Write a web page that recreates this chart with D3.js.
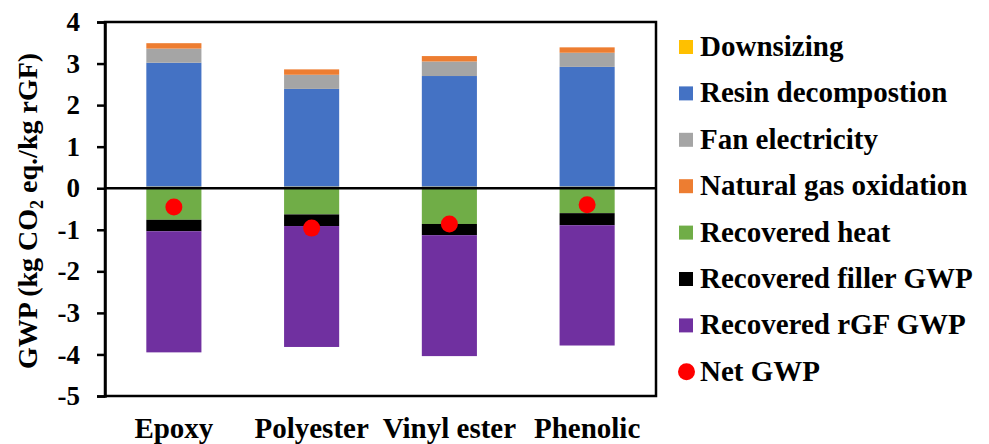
<!DOCTYPE html>
<html>
<head>
<meta charset="utf-8">
<script src="https://cdn.jsdelivr.net/npm/d3@7"></script>
<style>
  html, body { margin: 0; padding: 0; background: #fff; }
  svg { display: block; }
  text { font-family: "Liberation Serif", "Times New Roman", serif; font-weight: bold; fill: #000; }
</style>
</head>
<body>
<svg id="chart" width="989" height="444"></svg>
<script>
// ---- Data ----
const categories = ["Epoxy", "Polyester", "Vinyl ester", "Phenolic"];
const seriesNames = ["Downsizing", "Resin decompostion", "Fan electricity", "Natural gas oxidation",
                     "Recovered heat", "Recovered filler GWP", "Recovered rGF GWP"];
const seriesColors = ["#FFC000", "#4472C4", "#A5A5A5", "#ED7D31", "#70AD47", "#000000", "#7030A0"];
const downsizing = [0.04, 0.04, 0.04, 0.04];
const resinDecomposition = [2.98, 2.35, 2.66, 2.88];
const fanElectricity = [0.34, 0.34, 0.35, 0.34];
const naturalGasOxidation = [0.13, 0.13, 0.13, 0.13];
const recoveredHeat = [-0.76, -0.63, -0.86, -0.60];
const recoveredFiller = [-0.275, -0.28, -0.27, -0.29];
const recoveredRGF = [-2.915, -2.91, -2.91, -2.895];
const netGWP = [-0.45, -0.96, -0.86, -0.40];
const netName = "Net GWP";
const netColor = "#FF0000";
const yTicks = [4, 3, 2, 1, 0, -1, -2, -3, -4, -5];

const seriesValues = [downsizing, resinDecomposition, fanElectricity, naturalGasOxidation,
                      recoveredHeat, recoveredFiller, recoveredRGF];

// ---- Layout ----
const svg = d3.select("#chart");
const pLeft = 105, pRight = 656, pTop = 22, pBottom = 396;

const x = d3.scaleBand().domain(categories).range([pLeft, pRight]).paddingInner(0.6).paddingOuter(0.3);
const y = d3.scaleLinear().domain([-5, 4]).range([pBottom, pTop]);

const table = categories.map((c, i) => {
  const row = { category: c };
  seriesNames.forEach((s, j) => row[s] = seriesValues[j][i]);
  return row;
});
const stacked = d3.stack().keys(seriesNames).offset(d3.stackOffsetDiverging)(table);

// bars
svg.append("g").selectAll("g").data(stacked).join("g")
  .attr("fill", (d, i) => seriesColors[i])
  .selectAll("rect").data(d => d).join("rect")
  .attr("x", d => x(d.data.category))
  .attr("width", x.bandwidth())
  .attr("y", d => y(Math.max(d[0], d[1])))
  .attr("height", d => Math.abs(y(d[0]) - y(d[1])));

// zero line
svg.append("line")
  .attr("x1", pLeft).attr("x2", pRight)
  .attr("y1", y(0)).attr("y2", y(0))
  .attr("stroke", "#000").attr("stroke-width", 2.5);

// frame
svg.append("rect")
  .attr("x", pLeft).attr("y", pTop)
  .attr("width", pRight - pLeft).attr("height", pBottom - pTop)
  .attr("fill", "none").attr("stroke", "#000").attr("stroke-width", 2.5);

// y axis
const yAxis = svg.append("g").attr("transform", `translate(${pLeft},0)`)
  .call(d3.axisLeft(y).tickValues(yTicks).tickFormat(d => String(d)).tickSize(8).tickPadding(17));
yAxis.select(".domain").attr("stroke", "#000").attr("stroke-width", 2.5);
yAxis.selectAll(".tick line").attr("stroke", "#000").attr("stroke-width", 2.5);
yAxis.selectAll(".tick text")
  .attr("font-family", "'Liberation Serif', 'Times New Roman', serif")
  .attr("font-weight", "bold").attr("font-size", 27).attr("fill", "#000");

// net points
svg.append("g").selectAll("circle").data(categories).join("circle")
  .attr("cx", d => x(d) + x.bandwidth() / 2)
  .attr("cy", (d, i) => y(netGWP[i]))
  .attr("r", 8.5)
  .attr("fill", netColor);

// category labels
svg.append("g").selectAll("text").data(categories).join("text")
  .attr("x", d => x(d) + x.bandwidth() / 2)
  .attr("y", 438)
  .attr("text-anchor", "middle")
  .attr("font-size", 29)
  .text(d => d);

// y title
const title = svg.append("text")
  .attr("transform", `translate(37,${(pTop + pBottom) / 2 + 2}) rotate(-90)`)
  .attr("text-anchor", "middle")
  .attr("font-size", 28);
title.append("tspan").text("GWP (kg CO");
title.append("tspan").attr("font-size", 18).attr("dy", 6).text("2");
title.append("tspan").attr("dy", -6).text(" eq./kg rGF)");

// legend
const legendItems = seriesNames.map((n, i) => ({ name: n, color: seriesColors[i], type: "rect" }))
  .concat([{ name: netName, color: netColor, type: "circle" }]);
const lg = svg.append("g").selectAll("g").data(legendItems).join("g")
  .attr("transform", (d, i) => `translate(679,${47 + i * 46.4})`);
lg.filter(d => d.type === "rect").append("rect")
  .attr("x", 0).attr("y", -7).attr("width", 14).attr("height", 14)
  .attr("fill", d => d.color);
lg.filter(d => d.type === "circle").append("circle")
  .attr("cx", 7.5).attr("cy", 0).attr("r", 8.5)
  .attr("fill", d => d.color);
lg.append("text")
  .attr("x", 21).attr("y", 9)
  .attr("font-size", 29)
  .text(d => d.name);
</script>
</body>
</html>
